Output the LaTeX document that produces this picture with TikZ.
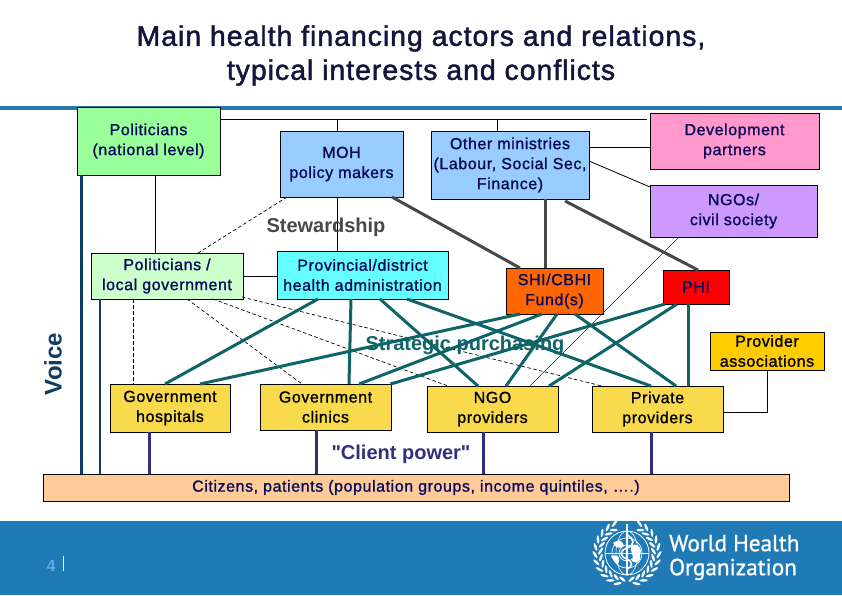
\documentclass[tikz,border=0pt]{standalone}
\usepackage{fontspec}
\setmainfont{Liberation Sans}
\newfontfamily\logofont[FakeBold=1]{PT Sans}
\newfontfamily\boxfont[FakeBold=1.2,LetterSpace=3.6]{Liberation Sans}
\newfontfamily\titlefont[FakeBold=1.6,LetterSpace=3.5]{Liberation Sans}
\newfontfamily\labelfont{Liberation Sans}
\usetikzlibrary{arrows.meta,positioning,calc}
\definecolor{whoblue}{HTML}{1F7AB6}
\definecolor{rulecol}{HTML}{2A76AE}
\definecolor{boxink}{HTML}{0A0A5A}
\definecolor{darkink}{HTML}{14143C}
\definecolor{polgreen}{HTML}{99FF99}
\definecolor{locgreen}{HTML}{CCFFCC}
\definecolor{mohblue}{HTML}{99CCFF}
\definecolor{devpink}{HTML}{FF99CC}
\definecolor{ngolilac}{HTML}{CC99FF}
\definecolor{provcyan}{HTML}{66FFFF}
\definecolor{shiorange}{HTML}{FF6600}
\definecolor{phired}{HTML}{FF0000}
\definecolor{assocgold}{HTML}{FFCC00}
\definecolor{provyellow}{HTML}{F9DA4C}
\definecolor{citpeach}{HTML}{FFCC99}
\definecolor{tealline}{HTML}{0F6468}
\definecolor{voiceblue}{HTML}{103C64}
\definecolor{clientblue}{HTML}{30307F}
\definecolor{stewgrey}{HTML}{484848}
\definecolor{pageblue}{HTML}{62ADE8}
\tikzset{
  actor/.style={draw=black,line width=0.9pt,align=center,text=boxink,inner sep=0pt,outer sep=0pt,
    font=\fontsize{16}{20}\boxfont},
  thinlink/.style={black,line width=0.8pt},
  dashlink/.style={black,line width=0.7pt,dash pattern=on 3.5pt off 2.5pt},
  purchase/.style={tealline,line width=3pt},
  stewlink/.style={stewgrey,line width=3pt},
  voicelink/.style={voiceblue,line width=2.8pt},
  clientlink/.style={clientblue,line width=3pt},
  biglabel/.style={font=\fontsize{20}{22}\labelfont\bfseries,inner sep=0pt}
}
\begin{document}
\begin{tikzpicture}[x=1pt,y=-1pt]
  \useasboundingbox (0,0) rectangle (842,595);
  \fill[white] (0,0) rectangle (842,595);
  \node[align=center,text=darkink,font=\fontsize{28.4}{34}\titlefont] (title) at (421,55.5)
      {Main health financing actors and relations,\\typical interests and conflicts};
  \fill[rulecol] (0,106) rectangle (842,110);
  % footer band
  \fill[whoblue] (0,521) rectangle (842,595);
  \node[text=pageblue,font=\fontsize{16}{16}\selectfont\bfseries] (pagenum) at (51,566) {4};
  \fill[white] (62.5,556) rectangle (63.8,571);
  % actors
  \node[actor,fill=polgreen,minimum width=143,minimum height=68] (polnat) at (148.5,141) {Politicians\\(national level)};
  \node[actor,fill=mohblue,minimum width=123,minimum height=66] (moh) at (341.5,164) {MOH\\policy makers};
  \node[actor,fill=mohblue,minimum width=158,minimum height=68] (other) at (510,165) {Other ministries\\(Labour, Social Sec,\\Finance)};
  \node[actor,fill=devpink,minimum width=169,minimum height=56] (dev) at (734.5,141) {Development\\partners};
  \node[actor,fill=ngolilac,minimum width=167,minimum height=52] (ngos) at (733.5,211) {NGOs/\\civil society};
  \node[actor,fill=locgreen,minimum width=152,minimum height=46] (polloc) at (167,276) {Politicians /\\local government};
  \node[actor,fill=provcyan,minimum width=171,minimum height=48] (prov) at (362.5,275) {Provincial/district\\health administration};
  \node[actor,fill=shiorange,minimum width=97,minimum height=46] (shi) at (554.5,291) {SHI/CBHI\\Fund(s)};
  \node[actor,fill=phired,minimum width=66,minimum height=34] (phi) at (696,287) {PHI};
  \node[actor,fill=assocgold,text=black,minimum width=114,minimum height=38] (assoc) at (767,351) {Provider\\associations};
  \node[actor,fill=provyellow,text=black,minimum width=120,minimum height=48] (hosp) at (170,408) {Government\\hospitals};
  \node[actor,fill=provyellow,text=black,minimum width=131,minimum height=46] (clin) at (325.5,407) {Government\\clinics};
  \node[actor,fill=provyellow,text=black,minimum width=131,minimum height=46] (ngoprov) at (492.5,409) {NGO\\providers};
  \node[actor,fill=provyellow,text=black,minimum width=131,minimum height=46] (priv) at (657.5,409) {Private\\providers};
  \node[actor,fill=citpeach,minimum width=746,minimum height=27] (cit) at (416,487.5) {Citizens, patients (population groups, income quintiles, ….)};
  % plain links
  \draw[thinlink] ([xshift=6.5]polnat.south) -- ([xshift=-12]polloc.north);
  \draw[thinlink,shorten >=3pt] ([yshift=22]polnat.east) -- ([yshift=22]dev.west);
  \draw[thinlink] ([xshift=-4.5]moh.north) -- ++(0,-12);
  \draw[thinlink] ([xshift=-13]other.north) -- ++(0,-12);
  \draw[thinlink] ([xshift=-4.5]moh.south) -- ([xshift=-25.5]prov.north);
  \draw[thinlink] (polloc.east) -- (polloc.east -| prov.west);
  \draw[thinlink] ([yshift=18]other.east) -- ([yshift=-6]dev.west);
  \draw[thinlink] ([yshift=4]other.east) -- ([yshift=24]ngos.west);
  \draw[tealline!70!black,line width=0.5pt] ([xshift=-54.5]ngos.south) -- ([xshift=37.5]ngoprov.north);
  \draw[thinlink] ([yshift=-3]priv.east) -| (assoc.south);
  % dashed links
  \draw[dashlink] ([xshift=-54.5]moh.south) -- ([xshift=31]polloc.north);
  \draw[dashlink] ([xshift=-34]polloc.south) -- ([xshift=-37]hosp.north);
  \draw[dashlink] ([xshift=20]polloc.south) -- ([xshift=-23.5]clin.north);
  \draw[dashlink] ([xshift=46]polloc.south) -- ([xshift=-44.5]ngoprov.north);
  \draw[dashlink] ([xshift=75,yshift=2]polloc.south) -- ([xshift=-55.5]priv.north);
  % stewardship
  \draw[stewlink] ([xshift=50.5]moh.south) -- ([xshift=-34.5]shi.north);
  \draw[stewlink] ([xshift=35]other.south) -- ([xshift=-9.5]shi.north);
  \draw[stewlink] ([xshift=55,yshift=-2]other.south) -- ([xshift=2]phi.north);
  % strategic purchasing
  \foreach \from/\dx/\to/\ex in {prov/-44.5/hosp/-5,prov/-11.5/clin/23.5,prov/17.5/ngoprov/-14.5,prov/44.5/priv/-6.5,
      shi/-34.5/hosp/30,shi/-12.5/clin/33.5,shi/2.5/ngoprov/13.5,shi/20.5/priv/18.5,
      phi/-31/clin/65,phi/-19/ngoprov/56.5,phi/-8/priv/30.5}{
    \draw[purchase] ([xshift=\dx]\from.south) -- ([xshift=\ex]\to.north);
  }
  % voice and client power
  \draw[voicelink] ([xshift=-67]polnat.south) -- ([xshift=-67]polnat.south |- cit.north);
  \draw[voicelink] ([xshift=-67]polloc.south) -- ([xshift=-67]polloc.south |- cit.north);
  \draw[clientlink] ([xshift=-21]hosp.south) -- ([xshift=-21]hosp.south |- cit.north);
  \draw[clientlink] ([xshift=-9.5]clin.south) -- ([xshift=-9.5]clin.south |- cit.north);
  \draw[clientlink] ([xshift=-9.5]ngoprov.south) -- ([xshift=-9.5]ngoprov.south |- cit.north);
  \draw[clientlink] ([xshift=-6.5]priv.south) -- ([xshift=-6.5]priv.south |- cit.north);
  % captions
  \node[biglabel,text=stewgrey] (stew) at (326,227) {Stewardship};
  \node[biglabel,text=tealline] (strat) at (465,345) {Strategic purchasing};
  \node[biglabel,text=clientblue] (client) at (401,454) {"Client power"};
  \node[biglabel,text=voiceblue,rotate=90,font=\fontsize{24}{26}\labelfont\bfseries] (voice) at (53,364) {Voice};
  % emblem
  \begin{scope}[shift={(627,553)}]
    \draw[white,line width=0.8pt] (0,0) circle (22);
    \draw[white,line width=0.7pt] (0,0) circle (15);
    \draw[white,line width=0.7pt] (0,0) circle (8);
    \draw[white,line width=0.6pt] (-22,0) -- (22,0);
    \draw[white,line width=0.6pt] (0,0) ellipse (11 and 22);
    \fill[white] (-16,3) .. controls (-8,0) and (-6,6) .. (-9,11) .. controls (-12,9) and (-14,7) .. (-16,3);
    \fill[white] (4,-8) .. controls (12,-10) and (16,-4) .. (13,2) .. controls (15,8) and (9,12) .. (5,8) .. controls (8,2) and (2,-2) .. (4,-8);
    \fill[white] (-14,-10) .. controls (-8,-14) and (-4,-12) .. (-3,-7) .. controls (-7,-4) and (-12,-5) .. (-14,-10);
    \fill[white] (-1,-29) rectangle (1.4,22);
    \draw[white,line width=1.6pt] (0,-18) .. controls (8,-14) and (8,-8) .. (0,-5) .. controls (-8,-2) and (-8,3) .. (0,6) .. controls (6,9) and (6,13) .. (0,16);
    \foreach \a in {-80,-66,...,60}{
      \fill[white,rotate=\a] (26.5,0) circle [x radius=1.3,y radius=4,rotate=30];
      \fill[white,rotate=\a+7] (32,0) circle [x radius=1.3,y radius=4.2,rotate=-30];
      \fill[white,rotate=180-\a] (26.5,0) circle [x radius=1.3,y radius=4,rotate=-30];
      \fill[white,rotate=173-\a] (32,0) circle [x radius=1.3,y radius=4.2,rotate=30];
    }
  \end{scope}
  \node[white,anchor=west,inner sep=0pt,align=left,font=\fontsize{23.2}{24}\logofont] (who) at (669,557.5)
      {World Health\\Organization};
\end{tikzpicture}
\end{document}
